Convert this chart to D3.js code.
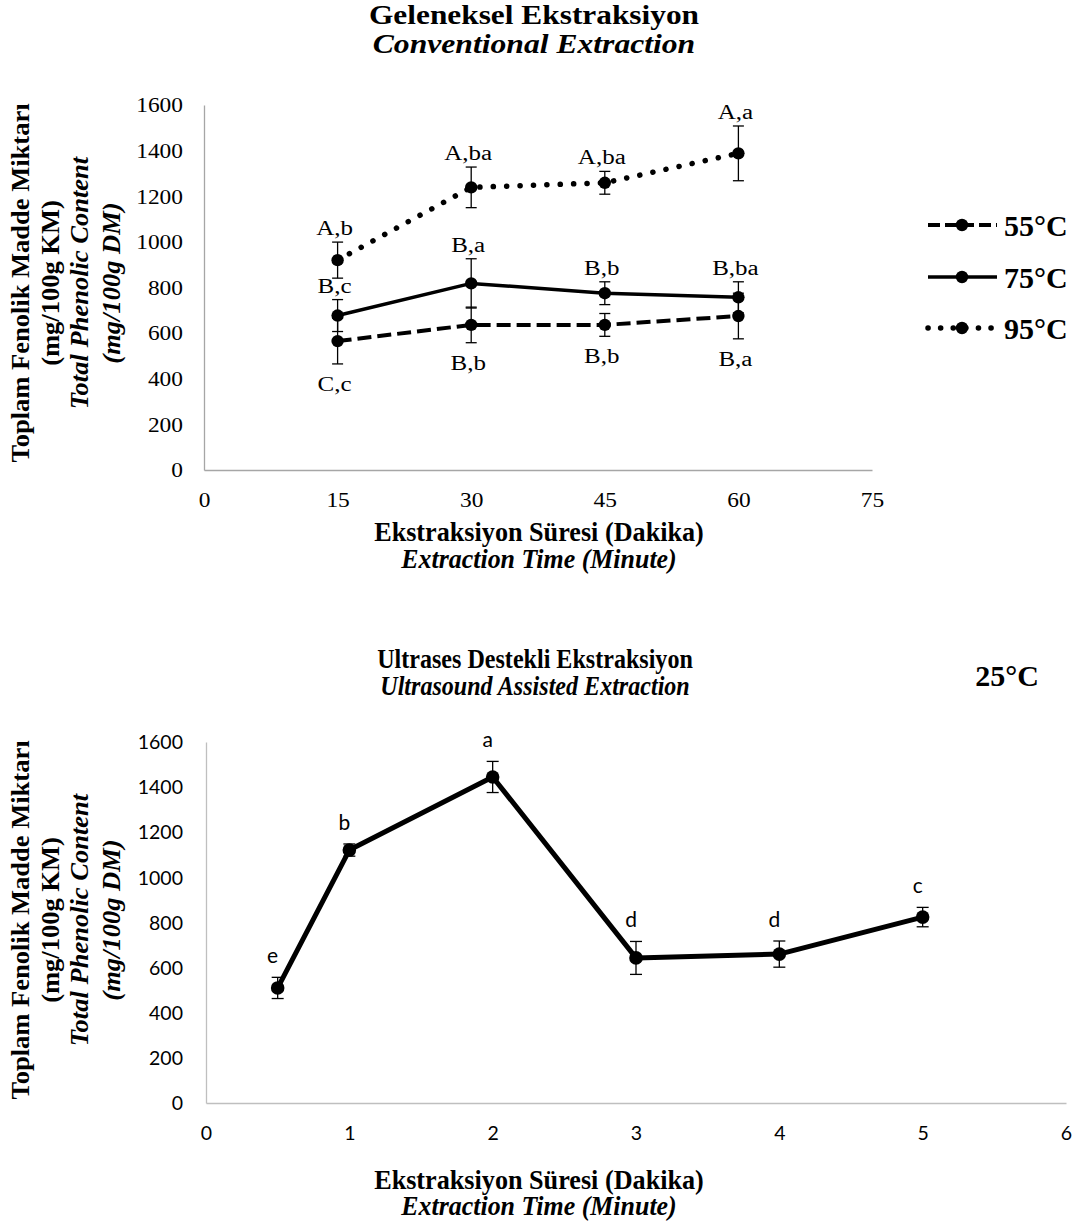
<!DOCTYPE html>
<html><head><meta charset="utf-8">
<script src="https://cdn.jsdelivr.net/npm/d3@7"></script>
<style>body{margin:0;background:#fff} svg{display:block}</style>
</head><body><svg id="c" width="1081" height="1221"></svg>
<script>
// ---------- DATA ----------
const convTimes = [15, 30, 45, 60];
const conv55 = [565, 636, 636, 675];
const conv55Err = [100, 78, 50, 100];
const conv55Labels = ["C,c", "B,b", "B,b", "B,a"];
const conv75 = [677, 818, 775, 757];
const conv75Err = [70, 108, 50, 68];
const conv75Labels = ["B,c", "B,a", "B,b", "B,ba"];
const conv95 = [920, 1239, 1259, 1388];
const conv95Err = [79, 89, 50, 120];
const conv95Labels = ["A,b", "A,ba", "A,ba", "A,a"];
const convXTicks = [0, 15, 30, 45, 60, 75];
const yTicks = [0, 200, 400, 600, 800, 1000, 1200, 1400, 1600];
const seriesNames = ["55°C", "75°C", "95°C"];

const ultraTimes = [0.5, 1, 2, 3, 4, 5];
const ultra25 = [510, 1121, 1445, 643, 660, 824];
const ultra25Err = [47, 27, 69, 73, 58, 43];
const ultraLabels = ["e", "b", "a", "d", "d", "c"];
const ultraXTicks = [0, 1, 2, 3, 4, 5, 6];

// ---------- HELPERS ----------
const svg = d3.select("#c");
const SERIF = "Liberation Serif, Times New Roman, serif";
const SANS = "Lato, Open Sans, sans-serif";

function T(sel, x, y, s, o) {
  o = o || {};
  return sel.append("text")
    .attr("transform", `translate(${x},${y})${o.rot ? ` rotate(${o.rot})` : ""} scale(${o.sx || 1},1)`)
    .attr("text-anchor", o.anchor || "middle")
    .attr("font-family", o.ff || SERIF)
    .attr("font-size", (o.fs || 20))
    .attr("font-weight", o.fw || "normal")
    .attr("font-style", o.fst || "normal")
    .attr("fill", "#000")
    .text(s);
}

function yTitle(cy) {
  T(svg, 29, cy, "Toplam Fenolik Madde Miktarı", {rot: -90, fs: 26, fw: "bold", sx: 1.02});
  T(svg, 59, cy, "(mg/100g KM)", {rot: -90, fs: 26, fw: "bold", sx: 1.02});
  T(svg, 88, cy, "Total Phenolic Content", {rot: -90, fs: 26, fw: "bold", fst: "italic", sx: 1.02});
  T(svg, 120, cy, "(mg/100g DM)", {rot: -90, fs: 26, fw: "bold", fst: "italic", sx: 1.02});
}

function axes(x, y, xTicks, tickFont, tickFs, tickSx, xLabelY, axisColor) {
  const gy = svg.append("g").attr("transform", `translate(${x.range()[0]},0)`)
    .call(d3.axisLeft(y).tickValues(yTicks).tickFormat(d3.format("d")).tickSize(0).tickSizeOuter(0))
    .attr("font-family", tickFont).attr("font-size", tickFs);
  gy.select(".domain").attr("stroke", axisColor).attr("stroke-width", 1.3);
  gy.selectAll(".tick text").attr("x", null).attr("dy", "0.34em")
    .attr("transform", `translate(${183 - x.range()[0]},0) scale(${tickSx},1)`)
    .attr("fill", "#000");

  const gx = svg.append("g").attr("transform", `translate(0,${y.range()[0]})`)
    .call(d3.axisBottom(x).tickValues(xTicks).tickFormat(d3.format("d")).tickSize(0).tickSizeOuter(0))
    .attr("font-family", tickFont).attr("font-size", tickFs);
  gx.select(".domain").attr("stroke", axisColor).attr("stroke-width", 1.3);
  gx.selectAll(".tick text").attr("y", null).attr("dy", null)
    .attr("transform", `translate(0,${xLabelY - y.range()[0]}) scale(${tickSx},1)`)
    .attr("fill", "#000");
}

function series(x, y, xs, vs, es, style) {
  const pts = xs.map((t, i) => [t, vs[i], es[i]]);
  const line = d3.line().x(d => x(d[0])).y(d => y(d[1]));
  svg.append("path").datum(pts).attr("d", line).attr("fill", "none")
    .attr("stroke", "#000").attr("stroke-width", style.w)
    .attr("stroke-dasharray", style.dash || null)
    .attr("stroke-linecap", style.cap || "butt")
    .attr("stroke-linejoin", "round");
  return pts;
}
function errBars(x, y, pts, cap) {
  const g = svg.append("g").attr("stroke", "#000").attr("stroke-width", 1.3);
  pts.forEach(d => {
    const cx = x(d[0]), y1 = y(d[1] + d[2]), y2 = y(d[1] - d[2]);
    g.append("line").attr("x1", cx).attr("x2", cx).attr("y1", y1).attr("y2", y2);
    g.append("line").attr("x1", cx - cap).attr("x2", cx + cap).attr("y1", y1).attr("y2", y1);
    g.append("line").attr("x1", cx - cap).attr("x2", cx + cap).attr("y1", y2).attr("y2", y2);
  });
}
function markers(x, y, pts, r) {
  svg.append("g").selectAll("circle").data(pts).join("circle")
    .attr("cx", d => x(d[0])).attr("cy", d => y(d[1])).attr("r", r).attr("fill", "#000");
}

// ---------- TOP CHART ----------
const x1 = d3.scaleLinear().domain([0, 75]).range([204, 872]);
const y1 = d3.scaleLinear().domain([0, 1600]).range([470, 105]);

T(svg, 534, 24, "Geleneksel Ekstraksiyon", {fs: 28, fw: "bold", sx: 1.12});
T(svg, 534, 53, "Conventional Extraction", {fs: 28, fw: "bold", fst: "italic", sx: 1.13});
yTitle(283);
axes(x1, y1, convXTicks, SERIF, 20, 1.17, 507, "#a6a6a6");
T(svg, 539, 541, "Ekstraksiyon Süresi (Dakika)", {fs: 27, fw: "bold", sx: 0.97});
T(svg, 539, 568, "Extraction Time (Minute)", {fs: 27, fw: "bold", fst: "italic", sx: 0.96});

const styles = [
  {w: 4, dash: "14,6"},
  {w: 3.5},
  {w: 5.5, dash: "0.1,13.3", cap: "round"}
];
const convVals = [conv55, conv75, conv95];
const convErrs = [conv55Err, conv75Err, conv95Err];
const convLabs = [conv55Labels, conv75Labels, conv95Labels];
const convPts = convVals.map((v, i) => series(x1, y1, convTimes, v, convErrs[i], styles[i]));
convPts.forEach(p => errBars(x1, y1, p, 5.5));
convPts.forEach(p => markers(x1, y1, p, 6.2));
// labels: 55 below, 75 & 95 above
convPts.forEach((p, si) => {
  p.forEach((d, i) => {
    const yy = si === 0 ? y1(d[1] - d[2]) + 27 : y1(d[1] + d[2]) - 7;
    T(svg, x1(d[0]) - 3, yy, convLabs[si][i], {fs: 20, sx: 1.25});
  });
});

// legend
const legYs = [225, 277, 328];
seriesNames.forEach((n, i) => {
  const ly = legYs[i];
  svg.append("line").attr("x1", 928).attr("x2", 997).attr("y1", ly).attr("y2", ly)
    .attr("stroke", "#000").attr("stroke-width", styles[i].w)
    .attr("stroke-dasharray", styles[i].dash ? (i === 0 ? "12,5" : "0.1,12.5") : null)
    .attr("stroke-linecap", styles[i].cap || "butt");
  svg.append("circle").attr("cx", 962).attr("cy", ly).attr("r", 6.2).attr("fill", "#000");
  T(svg, 1004, ly + 11, n, {fs: 30, fw: "bold", anchor: "start"});
});

// ---------- BOTTOM CHART ----------
const x2 = d3.scaleLinear().domain([0, 6]).range([206, 1066]);
const y2 = d3.scaleLinear().domain([0, 1600]).range([1103, 742]);

T(svg, 535, 668, "Ultrases Destekli Ekstraksiyon", {fs: 28, fw: "bold", sx: 0.86});
T(svg, 535, 695, "Ultrasound Assisted Extraction", {fs: 28, fw: "bold", fst: "italic", sx: 0.86});
T(svg, 1007, 686, "25°C", {fs: 30, fw: "bold"});
yTitle(920);
axes(x2, y2, ultraXTicks, SANS, 19.5, 1.0, 1140, "#bfbfbf");
T(svg, 539, 1189, "Ekstraksiyon Süresi (Dakika)", {fs: 27, fw: "bold", sx: 0.97});
T(svg, 539, 1215, "Extraction Time (Minute)", {fs: 27, fw: "bold", fst: "italic", sx: 0.96});

const uPts = series(x2, y2, ultraTimes, ultra25, ultra25Err, {w: 5});
errBars(x2, y2, uPts, 6);
markers(x2, y2, uPts, 6.8);
uPts.forEach((d, i) => {
  T(svg, x2(d[0]) - 5, y2(d[1] + d[2]) - 14, ultraLabels[i], {ff: SANS, fs: 21});
});
</script></body></html>
